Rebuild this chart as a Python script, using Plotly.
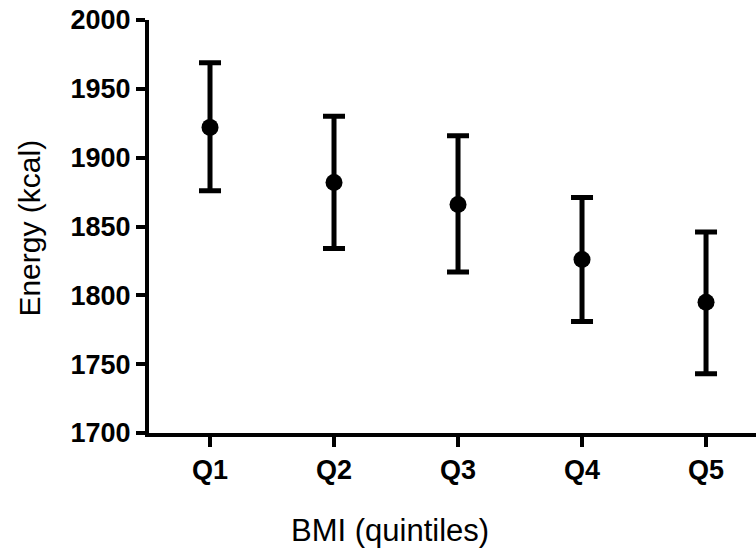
import plotly.graph_objects as go

categories = ["Q1", "Q2", "Q3", "Q4", "Q5"]
energy_mean = [1922, 1882, 1866, 1826, 1795]
energy_upper = [1969, 1930, 1916, 1871, 1846]
energy_lower = [1876, 1834, 1817, 1781, 1743]
y_ticks = [1700, 1750, 1800, 1850, 1900, 1950, 2000]

err_plus = [u - m for u, m in zip(energy_upper, energy_mean)]
err_minus = [m - l for m, l in zip(energy_mean, energy_lower)]

fig = go.Figure(
    go.Scatter(
        x=categories,
        y=energy_mean,
        mode="markers",
        marker=dict(color="black", size=17),
        error_y=dict(
            type="data",
            symmetric=False,
            array=err_plus,
            arrayminus=err_minus,
            color="black",
            thickness=5,
            width=11,
        ),
        cliponaxis=False,
    )
)

axis_common = dict(
    showline=True,
    linecolor="black",
    linewidth=4,
    ticks="outside",
    tickcolor="black",
    tickwidth=4,
    showgrid=False,
    zeroline=False,
    ticklabeloverflow="allow",
)

fig.update_layout(
    width=756,
    height=550,
    margin=dict(l=149, r=0, t=20, b=117),
    paper_bgcolor="white",
    plot_bgcolor="white",
    showlegend=False,
    xaxis=dict(
        type="category",
        categoryarray=categories,
        range=[-0.492, 4.403],
        ticklen=10,
        tickfont=dict(family="Liberation Sans", size=27, color="black", weight="bold"),
        **axis_common,
    ),
    yaxis=dict(
        range=[1700, 2000],
        tickvals=y_ticks,
        ticklen=9,
        tickfont=dict(family="Liberation Sans", size=27, color="black", weight="bold"),
        **axis_common,
    ),
    annotations=[
        dict(
            text="Energy (kcal)",
            xref="paper",
            yref="paper",
            x=-0.196,
            y=0.495,
            xanchor="center",
            yanchor="middle",
            textangle=-90,
            showarrow=False,
            font=dict(family="Liberation Sans", size=30, color="black"),
        ),
        dict(
            text="BMI (quintiles)",
            xref="paper",
            yref="paper",
            x=0.397,
            y=-0.235,
            xanchor="center",
            yanchor="middle",
            showarrow=False,
            font=dict(family="Liberation Sans", size=31, color="black"),
        ),
    ],
)

fig.write_html(
    "out.html",
    config={"displayModeBar": False},
    post_script="document.body.style.margin='0';document.body.style.overflow='hidden';",
)
